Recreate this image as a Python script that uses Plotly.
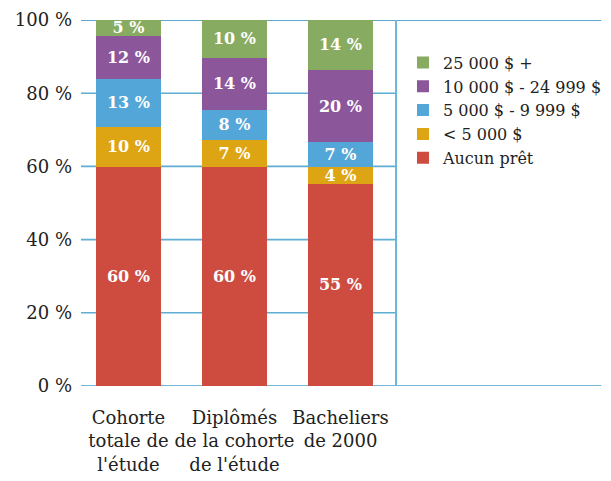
import plotly.graph_objects as go

categories = ["Cohorte<br>totale de<br>l'étude", "Diplômés<br>de la cohorte<br>de l'étude", "Bacheliers<br>de 2000"]
series_names = ["Aucun prêt", "< 5 000 $", "5 000 $ - 9 999 $", "10 000 $ - 24 999 $", "25 000 $ +"]
aucun = [59.9, 59.9, 55.3]
moins5 = [10.9, 7.4, 4.6]
de5a10 = [13.1, 8.2, 6.8]
de10a25 = [11.8, 14.2, 19.6]
plus25 = [4.6, 10.6, 14.2]
labels_aucun = ["60 %", "60 %", "55 %"]
labels_moins5 = ["10 %", "7 %", "4 %"]
labels_5a10 = ["13 %", "8 %", "7 %"]
labels_10a25 = ["12 %", "14 %", "20 %"]
labels_plus25 = ["5 %", "10 %", "14 %"]
y_ticks = [0, 20, 40, 60, 80, 100]
y_tick_labels = ["0 %", "20 %", "40 %", "60 %", "80 %", "100 %"]

colors = ["#CD4B3F", "#DDA413", "#53A6D8", "#8B569A", "#86AB61"]
values = [aucun, moins5, de5a10, de10a25, plus25]
texts = [labels_aucun, labels_moins5, labels_5a10, labels_10a25, labels_plus25]

FONT = "DejaVu Serif"
fig = go.Figure()
for name, vals, txt, col in zip(series_names, values, texts, colors):
    fig.add_trace(go.Bar(
        x=categories, y=vals, name=name, text=txt, texttemplate="<b>%{text}</b>",
        textposition="inside", insidetextanchor="middle", constraintext="none",
        textfont=dict(family=FONT, size=16, color="white"),
        marker=dict(color=col, line=dict(width=0)), width=0.613,
        hoverinfo="skip",
    ))

x_left, x_right, x_sep = -0.448, 4.467, 2.524
shapes = []
for v in y_ticks:
    if v in (0, 100):
        shapes.append(dict(type="line", xref="paper", yref="y", x0=0, x1=0.9985, y0=v, y1=v,
                           line=dict(color="#2A8AC0" if v == 100 else "#48A0CC", width=1.6), layer="below"))
    else:
        shapes.append(dict(type="line", xref="x", yref="y", x0=x_left, x1=x_sep, y0=v, y1=v,
                           line=dict(color="#5FADD3", width=1.6), layer="below"))
shapes.append(dict(type="line", xref="x", yref="y", x0=x_sep, x1=x_sep, y0=0, y1=100,
                   line=dict(color="#6DB4D8", width=2), layer="below"))

# the page body adds an 8px offset, so the figure is 8px smaller and margins compensate
fig.update_layout(
    barmode="stack", bargap=0.4,
    width=603, height=473,
    margin=dict(l=73, r=9, t=12, b=95, autoexpand=False),
    plot_bgcolor="white", paper_bgcolor="white",
    font=dict(family=FONT, size=17, color="#222222"),
    showlegend=True,
    legend=dict(traceorder="reversed", x=0.618, y=0.93, xanchor="left", yanchor="top",
                font=dict(family=FONT, size=16, color="#222222"), bgcolor="rgba(0,0,0,0)",
                itemwidth=30, tracegroupgap=0),
    uniformtext=dict(minsize=16, mode="show"),
    shapes=shapes,
)
fig.update_xaxes(type="category", range=[x_left, x_right], showgrid=False, zeroline=False,
                 showline=False, ticks="", tickangle=0,
                 tickfont=dict(family=FONT, size=18, color="#222222"),
                 ticklabelstandoff=19, automargin=False)
fig.update_yaxes(range=[0, 100], tickvals=y_ticks, ticktext=y_tick_labels, showgrid=False, zeroline=False,
                 showline=False, ticks="", tickfont=dict(family=FONT, size=18, color="#222222"),
                 ticklabelstandoff=8, automargin=False)

fig.write_html("out.html")
